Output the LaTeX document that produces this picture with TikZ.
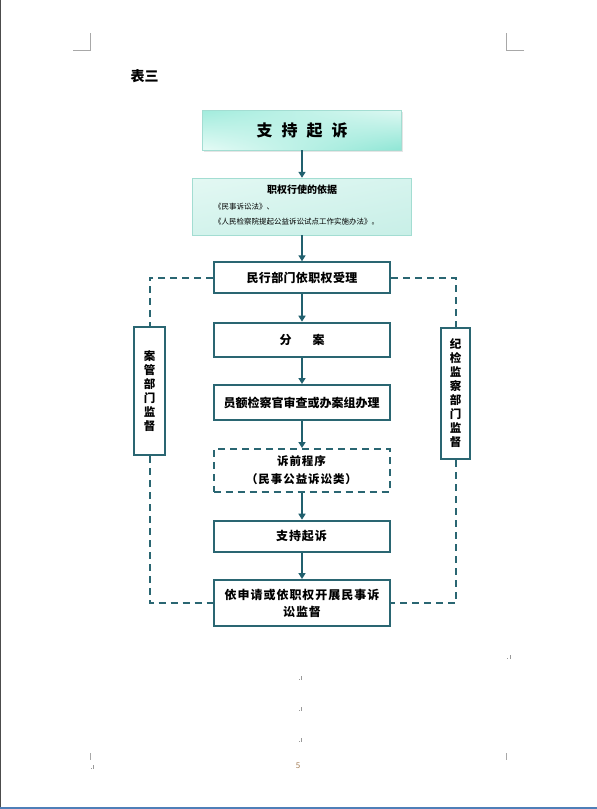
\documentclass[tikz,border=0pt]{standalone}
\usepackage{fontspec}
\newfontfamily\cjk{Noto Sans CJK SC}
\newfontfamily\cjkw[LetterSpace=8]{Noto Sans CJK SC}
\newfontfamily\cjkn[LetterSpace=3]{Noto Sans CJK SC}
\usetikzlibrary{arrows.meta,shadings}
\definecolor{tealb}{HTML}{2A6672}
\definecolor{tealarrow}{HTML}{21606E}
\definecolor{lightedge}{HTML}{A3DDD2}
\definecolor{pageblue}{HTML}{4F7FB8}
\definecolor{cropc}{HTML}{A8A8A8}
\definecolor{tUL}{HTML}{E6FBF6}
\definecolor{tUR}{HTML}{8EE6D5}
\definecolor{tLL}{HTML}{A2ECDD}
\definecolor{tLR}{HTML}{DDF8F2}
\definecolor{sUL}{HTML}{D3F3EC}
\definecolor{sUR}{HTML}{C8EFE7}
\definecolor{sLL}{HTML}{E3F8F3}
\definecolor{sLR}{HTML}{D6F4EE}
\tikzset{
  mainbox/.style={draw=tealb, line width=2pt, fill=white, minimum width=176pt, inner sep=2pt, align=center},
  dashbox/.style={mainbox, dash pattern=on 7pt off 5pt},
  sidebox/.style={draw=tealb, line width=2pt, fill=white, inner sep=1pt, align=center, font=\cjk\bfseries\fontsize{11.5}{14}\selectfont},
  flow/.style={draw=tealarrow, line width=2pt, -{Triangle[length=6pt,width=7pt]}},
  dashlink/.style={draw=tealb, line width=2pt, dash pattern=on 7pt off 5pt},
  pmark/.style={draw=gray!80, line width=0.8pt}
}
\begin{document}
\begin{tikzpicture}[x=1pt,y=-1pt]
\useasboundingbox (0,0) rectangle (597,809);
\fill[white] (0,0) rectangle (597,809);
% page edges
\draw[gray!60!black, line width=1.2pt] (0.6,0) -- (0.6,807);
\fill[pageblue] (0,806.5) rectangle (597,809);
% crop marks
\draw[cropc, line width=0.8pt] (73,50) -- (90.5,50) -- (90.5,33);
\draw[cropc, line width=0.8pt] (524,50) -- (506.5,50) -- (506.5,33);
\draw[cropc, line width=0.8pt] (90.5,753) -- (90.5,760);
\draw[cropc, line width=0.8pt] (506.5,753) -- (506.5,760);
% title
\node[font=\cjk\bfseries\fontsize{14}{16}\selectfont, anchor=west] (title) at (127,76) {表三};
% top box
\fill[black!10] (204,112.2) rectangle (403,151.5);
\shade[upper left=tLL, upper right=tLR, lower left=tUL, lower right=tUR] (202.7,110.7) rectangle (401.7,150);
\draw[lightedge, line width=1pt] (202.7,110.7) rectangle (401.7,150);
\node[minimum width=199pt, minimum height=39.3pt, font=\cjk\bfseries\fontsize{16}{18}\selectfont] (top) at (302.2,130.4) {支\hspace{9pt}持\hspace{9pt}起\hspace{9pt}诉};
% second box
\shade[upper left=sLL, upper right=sLR, lower left=sUL, lower right=sUR] (192.7,178) rectangle (411.7,235);
\draw[lightedge, line width=1pt] (192.7,178) rectangle (411.7,235);
\node[minimum width=219pt, minimum height=57pt] (basis) at (302.2,206.5) {};
\node[font=\cjk\bfseries\fontsize{10}{12}\selectfont] (basist) at (302.2,190) {职权行使的依据};
\node[font=\cjk\fontsize{7.5}{9}\selectfont, anchor=west, inner sep=0pt] (law1) at (214,207) {《民事诉讼法》、};
\node[font=\cjk\fontsize{7.5}{9}\selectfont, anchor=west, inner sep=0pt] (law2) at (214,222) {《人民检察院提起公益诉讼试点工作实施办法》。};
% main boxes
\node[mainbox, minimum height=31pt, font=\cjkn\bfseries\fontsize{12}{14}\selectfont] (b3) at (302,277.8) {民行部门依职权受理};
\node[mainbox, minimum height=34.6pt, font=\cjk\bfseries\fontsize{12}{14}\selectfont] (b4) at (302,340) {分\hspace{21pt}案};
\node[mainbox, minimum height=35pt, font=\cjk\fontsize{12}{14}\selectfont] (b5) at (301.5,402.5) {\bfseries 员额检察官审查或办案组办理};
\node[dashbox, minimum height=43pt, font=\cjkw\bfseries\fontsize{11.5}{18}\selectfont] (b6) at (301.5,470.5) {诉前程序\\（民事公益诉讼类）};
\node[mainbox, minimum height=31pt, font=\cjkw\bfseries\fontsize{12}{14}\selectfont] (b7) at (301.5,536.2) {支持起诉};
\node[mainbox, minimum height=46pt, font=\cjkw\bfseries\fontsize{12}{17}\selectfont] (b8) at (302,603) {依申请或依职权开展民事诉\\讼监督};
% side boxes
\node[sidebox, minimum width=31pt, minimum height=128pt] (lbox) at (149.5,391) {案\\管\\部\\门\\监\\督};
\node[sidebox, minimum width=29pt, minimum height=131pt] (rbox) at (455.5,393.5) {纪\\检\\监\\察\\部\\门\\监\\督};
% flow arrows
\draw[flow] (top.south -| 302,0) -- (basis.north -| 302,0);
\draw[flow] (basis.south -| 302,0) -- (b3.north -| 302,0);
\draw[flow] (b3.south -| 302,0) -- (b4.north -| 302,0);
\draw[flow] (b4.south -| 302,0) -- (b5.north -| 302,0);
\draw[flow] (b5.south -| 302,0) -- (b6.north -| 302,0);
\draw[flow] (b6.south -| 302,0) -- (b7.north -| 302,0);
\draw[flow] (b7.south -| 302,0) -- (b8.north -| 302,0);
% dashed supervision links
\draw[dashlink] (b3.west) -| (lbox.north);
\draw[dashlink] (lbox.south) |- (b8.west);
\draw[dashlink] (b3.east) -| (rbox.north);
\draw[dashlink] (rbox.south) |- (b8.east);
% paragraph marks
\foreach \px/\py in {507.5/658, 299/679, 299/710, 299/741, 91/768}{
  \fill[gray!80] (\px-0.5,\py-0.5) rectangle (\px+0.5,\py+0.5);
  \draw[pmark] (\px+2.8,\py+0.5) -- (\px+2.8,\py-2.8);
}
% page number
\node[font=\cjk\fontsize{8}{9}\selectfont, text=gray!70!orange] (pnum) at (298,766) {5};
\end{tikzpicture}
\end{document}
